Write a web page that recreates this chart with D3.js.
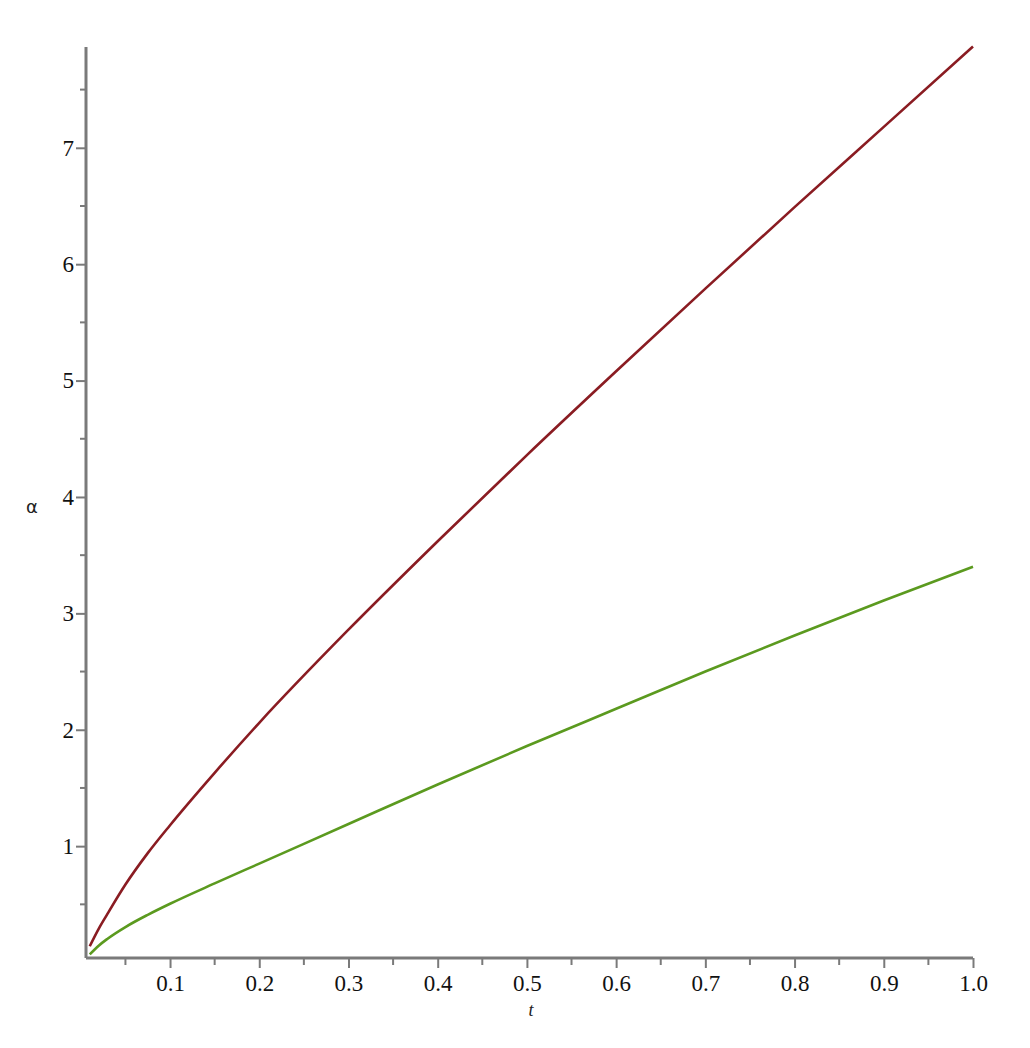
<!DOCTYPE html>
<html>
<head>
<meta charset="utf-8">
<script src="https://cdn.jsdelivr.net/npm/d3@7"></script>
<style>
html,body{margin:0;padding:0;background:#fff;}
svg{display:block;}
</style>
</head>
<body>
<svg id="chart" width="1030" height="1048"></svg>
<script>
// Data
const tValues     = [0.01, 0.02, 0.03, 0.05, 0.075, 0.1, 0.15, 0.2, 0.3, 0.4, 0.5, 0.6, 0.7, 0.8, 0.9, 1.0];
const redSeries   = [0.14, 0.29, 0.42, 0.67, 0.94, 1.18, 1.63, 2.06, 2.86, 3.62, 4.36, 5.08, 5.79, 6.49, 7.18, 7.87];
const greenSeries = [0.07, 0.145, 0.205, 0.305, 0.41, 0.505, 0.68, 0.85, 1.19, 1.53, 1.86, 2.18, 2.50, 2.81, 3.11, 3.40];
const xTickValues = [0.1, 0.2, 0.3, 0.4, 0.5, 0.6, 0.7, 0.8, 0.9, 1.0];
const xMinorTicks = [0.05, 0.15, 0.25, 0.35, 0.45, 0.55, 0.65, 0.75, 0.85, 0.95];
const yTickValues = [1, 2, 3, 4, 5, 6, 7];
const yMinorTicks = [0.5, 1.5, 2.5, 3.5, 4.5, 5.5, 6.5, 7.5];
const xLabel = "t";
const yLabel = "α";

const svg = d3.select("#chart");
const x = d3.scaleLinear().domain([0.0058, 1]).range([86, 973]);
const y = d3.scaleLinear().domain([0.039, 7.866]).range([958, 47]);
const axisColor = "#7a7a7a";

// minor ticks
svg.append("g").selectAll("line").data(xMinorTicks).join("line")
  .attr("x1", d => x(d)).attr("x2", d => x(d))
  .attr("y1", 958).attr("y2", 965)
  .attr("stroke", axisColor).attr("stroke-width", 2);
svg.append("g").selectAll("line").data(yMinorTicks).join("line")
  .attr("y1", d => y(d)).attr("y2", d => y(d))
  .attr("x1", 80).attr("x2", 86)
  .attr("stroke", axisColor).attr("stroke-width", 2);

// x axis
const gx = svg.append("g").attr("transform", "translate(0,958)")
  .call(d3.axisBottom(x).tickValues(xTickValues).tickFormat(d3.format(".1f")).tickSize(10).tickPadding(7));
// y axis
const gy = svg.append("g").attr("transform", "translate(86,0)")
  .call(d3.axisLeft(y).tickValues(yTickValues).tickFormat(d3.format("d")).tickSize(10).tickPadding(2));

[gx, gy].forEach(g => {
  g.select(".domain").attr("stroke", axisColor).attr("stroke-width", 3);
  g.selectAll(".tick line").attr("stroke", axisColor).attr("stroke-width", 2);
  g.selectAll(".tick text").attr("fill", "#111")
    .style("font-family", "'Liberation Serif', 'DejaVu Serif', serif")
    .style("font-size", "23px");
});
gx.select(".domain").attr("d", `M${x(0.0058)},0H${x(1)}`);
gy.select(".domain").attr("d", `M0,${y(0.039)}V${y(7.866)}`);

// axis labels
svg.append("text").attr("x", 531).attr("y", 1016).attr("text-anchor", "middle")
  .style("font-family", "'Liberation Serif', serif").style("font-style", "italic")
  .style("font-size", "18px").attr("fill", "#222").text(xLabel);
svg.append("text").attr("x", 32).attr("y", 513).attr("text-anchor", "middle")
  .style("font-family", "'DejaVu Sans', sans-serif")
  .style("font-size", "18px").attr("fill", "#222").text(yLabel);

// curves
const line = d3.line().x((d, i) => x(tValues[i])).y(d => y(d)).curve(d3.curveMonotoneX);
svg.append("path").datum(greenSeries).attr("d", line)
  .attr("fill", "none").attr("stroke", "#5b9a1f").attr("stroke-width", 2.6);
svg.append("path").datum(redSeries).attr("d", line)
  .attr("fill", "none").attr("stroke", "#8a1c22").attr("stroke-width", 2.6);
</script>
</body>
</html>
